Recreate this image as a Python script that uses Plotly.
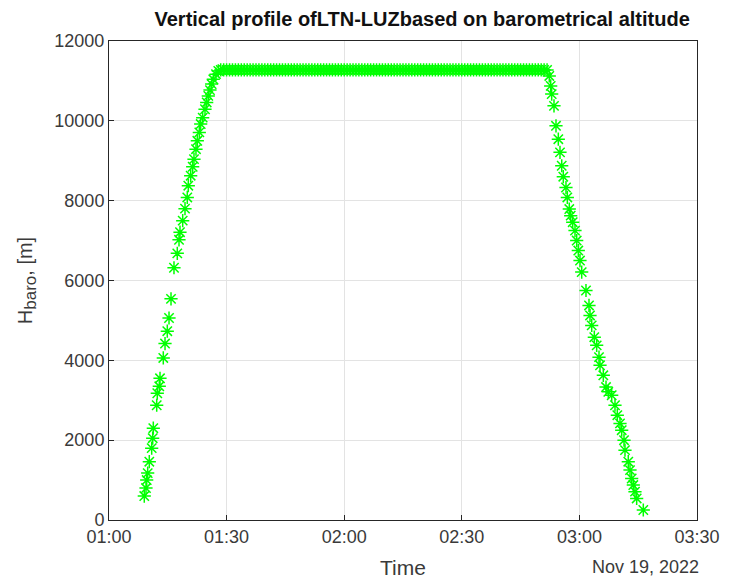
import pandas as pd
import plotly.graph_objects as go

# Minutes after 01:00 UTC and barometric altitude [m]
climb_min = [9.00, 9.44, 9.62, 9.87, 10.28, 10.89, 11.15, 11.30, 12.17, 12.32,
             12.83, 13.01, 13.85, 14.29, 14.87, 15.31, 15.82, 16.58, 17.42, 17.86,
             18.11, 18.80, 19.39, 19.97, 20.23, 20.84, 21.35, 21.68, 22.19, 22.53,
             23.04, 23.39, 23.90, 24.49, 24.92, 25.33, 25.76, 26.19, 26.61, 27.30,
             27.88]
climb_alt = [600, 800, 1000, 1175, 1460, 1800, 2050, 2300, 2875, 3175,
             3350, 3550, 4060, 4420, 4730, 5060, 5540, 6320, 6680, 7020,
             7210, 7500, 7800, 8080, 8375, 8625, 8850, 9040, 9290, 9500,
             9710, 9920, 10080, 10290, 10460, 10625, 10770, 10920, 11040, 11170,
             11250]

cruise_min = [28.50, 29.25, 30.00, 30.75, 31.50, 32.25, 33.00, 33.75, 34.50, 35.25,
              36.00, 36.75, 37.50, 38.25, 39.00, 39.75, 40.50, 41.25, 42.00, 42.75,
              43.50, 44.25, 45.00, 45.75, 46.50, 47.25, 48.00, 48.75, 49.50, 50.25,
              51.00, 51.75, 52.50, 53.25, 54.00, 54.75, 55.50, 56.25, 57.00, 57.75,
              58.50, 59.25, 60.00, 60.75, 61.50, 62.25, 63.00, 63.75, 64.50, 65.25,
              66.00, 66.75, 67.50, 68.25, 69.00, 69.75, 70.50, 71.25, 72.00, 72.75,
              73.50, 74.25, 75.00, 75.75, 76.50, 77.25, 78.00, 78.75, 79.50, 80.25,
              81.00, 81.75, 82.50, 83.25, 84.00, 84.75, 85.50, 86.25, 87.00, 87.75,
              88.50, 89.25, 90.00, 90.75, 91.50, 92.25, 93.00, 93.75, 94.50, 95.25,
              96.00, 96.75, 97.50, 98.25, 99.00, 99.75, 100.50, 101.25, 102.00, 102.75,
              103.50, 104.25, 105.00, 105.75, 106.50, 107.25, 108.00, 108.75, 109.50, 110.25,
              111.00, 111.75]
cruise_alt = [11275] * len(cruise_min)

descent_min = [112.32, 112.68, 112.93, 113.52, 114.03, 114.62, 115.05, 115.49, 115.89, 116.58,
               116.92, 117.42, 117.78, 118.29, 118.88, 119.31, 119.72, 120.15, 120.59, 121.68,
               122.45, 122.71, 123.14, 123.80, 124.41, 125.00, 125.26, 126.10, 126.79, 127.37,
               128.24, 129.08, 129.67, 130.36, 130.79, 131.38, 131.63, 132.47, 132.91, 133.34,
               133.75, 134.18, 134.61, 136.30]
descent_alt = [11125, 10875, 10670, 10375, 9875, 9540, 9210, 8875, 8600, 8330,
               8080, 7790, 7625, 7460, 7250, 7000, 6750, 6500, 6210, 5750,
               5375, 5125, 4875, 4580, 4375, 4080, 3875, 3625, 3330, 3210,
               3125, 2875, 2625, 2420, 2250, 2000, 1750, 1460, 1250, 1040,
               875, 710, 540, 250]

base = pd.Timestamp("2022-11-19 01:00:00")
minutes = climb_min + cruise_min + descent_min
alt = climb_alt + cruise_alt + descent_alt
times = base + pd.to_timedelta(minutes, unit="m")

axis_color = "#262626"
label_color = "#3a3a3a"
font_family = "Liberation Sans, Arial, Helvetica, sans-serif"

fig = go.Figure()
fig.add_trace(go.Scatter(
    x=times, y=alt, mode="markers",
    marker=dict(symbol="asterisk-open", size=11, color="#00ff00",
                line=dict(color="#00ee00", width=1.5)),
    showlegend=False,
))

fig.update_layout(
    width=738, height=579,
    margin=dict(l=109, r=41, t=41, b=59),
    paper_bgcolor="white", plot_bgcolor="white",
    font=dict(family=font_family, color=label_color, size=18),
    title=dict(text="<b>Vertical profile ofLTN-LUZbased on barometrical altitude</b>",
               x=0.572, xanchor="center", y=0.967, yanchor="middle",
               font=dict(size=20, color="#111111")),
    xaxis=dict(
        range=[pd.Timestamp("2022-11-19 01:00:00"), pd.Timestamp("2022-11-19 03:30:00")],
        tickformat="%H:%M", dtick=1800000,
        tick0=pd.Timestamp("2022-11-19 01:00:00"),
        showgrid=True, gridcolor="#e3e3e3", gridwidth=1,
        showline=True, linecolor=axis_color, linewidth=1, mirror=True,
        ticks="inside", ticklen=5, tickcolor=axis_color,
        zeroline=False, tickfont=dict(size=18, color=label_color),
        automargin=False,
        title=dict(text="Time", font=dict(size=21, color=label_color), standoff=14),
    ),
    yaxis=dict(
        range=[0, 12000], dtick=2000, tickformat="d",
        showgrid=True, gridcolor="#e3e3e3", gridwidth=1,
        showline=True, linecolor=axis_color, linewidth=1, mirror=True,
        ticks="inside", ticklen=5, tickcolor=axis_color,
        zeroline=False, tickfont=dict(size=18, color=label_color),
        automargin=False,
        title=dict(text="H<sub><span style=\"font-size:17px\">baro</span></sub>, [m]",
                   font=dict(size=20, color=label_color), standoff=16),
    ),
    annotations=[dict(
        text="Nov 19, 2022", xref="paper", yref="paper",
        x=1.0, y=0, xanchor="right", yanchor="middle", yshift=-47, xshift=4,
        showarrow=False, font=dict(size=18, color=label_color),
    )],
)

fig.write_html("out.html")
